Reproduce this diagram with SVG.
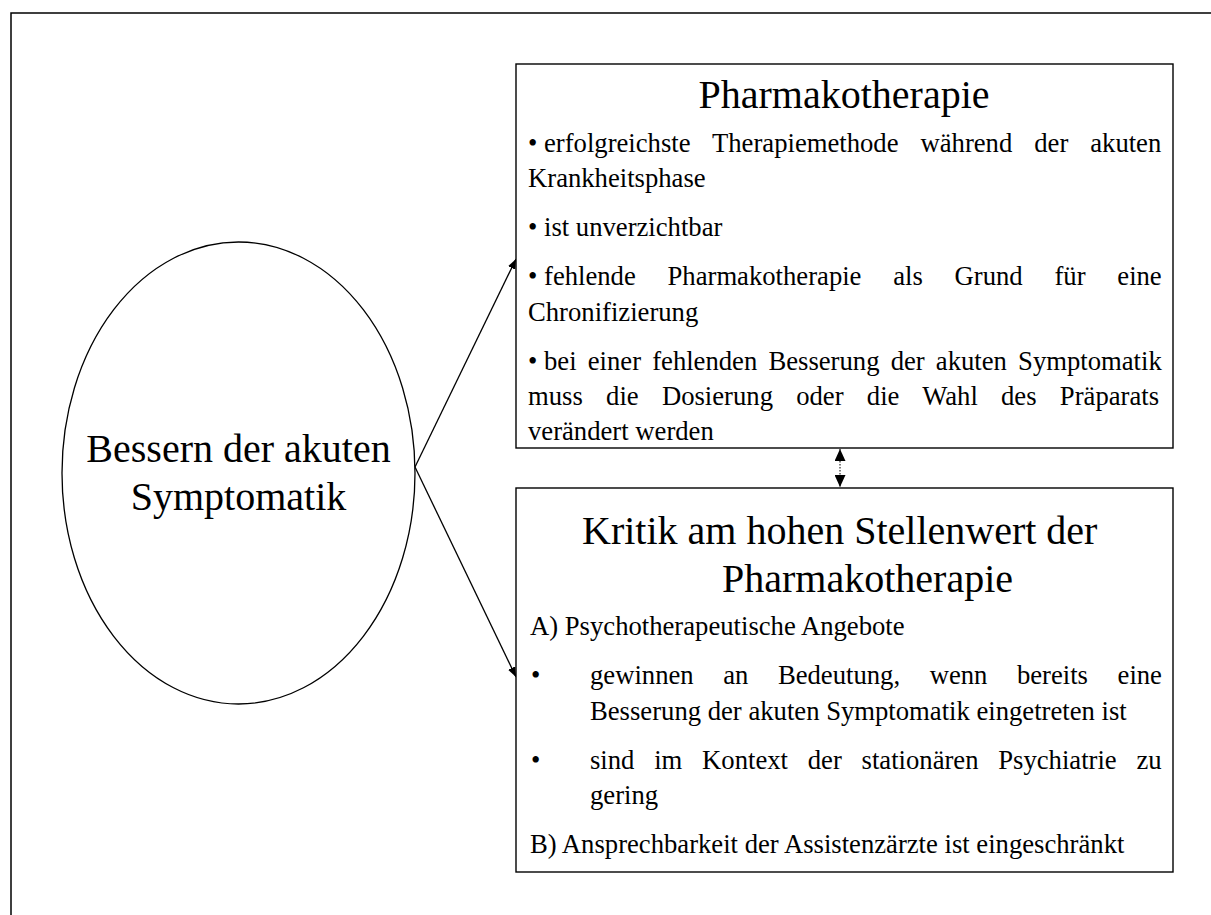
<svg xmlns="http://www.w3.org/2000/svg" width="1211" height="915" viewBox="0 0 1211 915">
<style>
text{font-family:"Liberation Serif","Times New Roman",serif;fill:#000}
.t{font-size:40px}
.b{font-size:26.67px}
.box{fill:#fff;stroke:#000;stroke-width:1.4}
.ln{stroke:#000;stroke-width:1.3;fill:none}
</style>
<defs>
<marker id="ah" viewBox="0 0 10 8" refX="10" refY="4" markerWidth="10" markerHeight="8" markerUnits="userSpaceOnUse" orient="auto"><path d="M0,0L10,4L0,8z" fill="#000"/></marker>
<marker id="ah2" viewBox="0 0 12 11" refX="12" refY="5.5" markerWidth="12" markerHeight="11" markerUnits="userSpaceOnUse" orient="auto-start-reverse"><path d="M0,0L12,5.5L0,11z" fill="#000"/></marker>
</defs>
<rect width="1211" height="915" fill="#fff"/>
<g id="frame"><path d="M11,915V13H1211" fill="none" stroke="#000" stroke-width="1.5"/></g>
<g id="connectors">
<line class="ln" x1="415" y1="467" x2="516" y2="259" marker-end="url(#ah)"/>
<line class="ln" x1="415" y1="467" x2="516" y2="677" marker-end="url(#ah)"/>
<line x1="840" y1="449" x2="840" y2="487" stroke="#000" stroke-width="1" stroke-dasharray="1.5,1.5" marker-start="url(#ah2)" marker-end="url(#ah2)"/>
</g>
<g id="ellipse-node">
<ellipse cx="238.5" cy="473" rx="176.5" ry="231" fill="#fff" stroke="#000" stroke-width="1.3"/>
<text class="t" x="238.5" y="462" text-anchor="middle">Bessern der akuten</text>
<text class="t" x="238.5" y="510" text-anchor="middle">Symptomatik</text>
</g>
<g id="pharmako-node">
<rect class="box" x="516" y="64" width="657" height="384"/>
<text class="t" x="844" y="108" text-anchor="middle">Pharmakotherapie</text>
<text class="b" x="528" y="152">•</text>
<text class="b" x="544" y="152" word-spacing="15.3">erfolgreichste Therapiemethode während der akuten</text>
<text class="b" x="528" y="187.3">Krankheitsphase</text>
<text class="b" x="528" y="236.3">•</text>
<text class="b" x="544" y="236.3">ist unverzichtbar</text>
<text class="b" x="528" y="285.3">•</text>
<text class="b" x="544" y="285.3" word-spacing="25.1">fehlende Pharmakotherapie als Grund für eine</text>
<text class="b" x="528" y="320.6">Chronifizierung</text>
<text class="b" x="528" y="369.6">•</text>
<text class="b" x="544" y="369.6" word-spacing="4.5">bei einer fehlenden Besserung der akuten Symptomatik</text>
<text class="b" x="528" y="404.9" word-spacing="16.6">muss die Dosierung oder die Wahl des Präparats</text>
<text class="b" x="528" y="440.2">verändert werden</text>
</g>
<g id="kritik-node">
<rect class="box" x="516" y="488" width="657" height="384"/>
<text class="t" x="582" y="544">Kritik am hohen Stellenwert der</text>
<text class="t" x="722" y="592">Pharmakotherapie</text>
<text class="b" x="530" y="635.4">A) Psychotherapeutische Angebote</text>
<text class="b" x="531" y="684.4">•</text>
<text class="b" x="590" y="684.4" word-spacing="22.9">gewinnen an Bedeutung, wenn bereits eine</text>
<text class="b" x="590" y="719.7">Besserung der akuten Symptomatik eingetreten ist</text>
<text class="b" x="531" y="768.7">•</text>
<text class="b" x="590" y="768.7" word-spacing="13.1">sind im Kontext der stationären Psychiatrie zu</text>
<text class="b" x="590" y="804">gering</text>
<text class="b" x="530" y="853">B) Ansprechbarkeit der Assistenzärzte ist eingeschränkt</text>
</g>
</svg>
